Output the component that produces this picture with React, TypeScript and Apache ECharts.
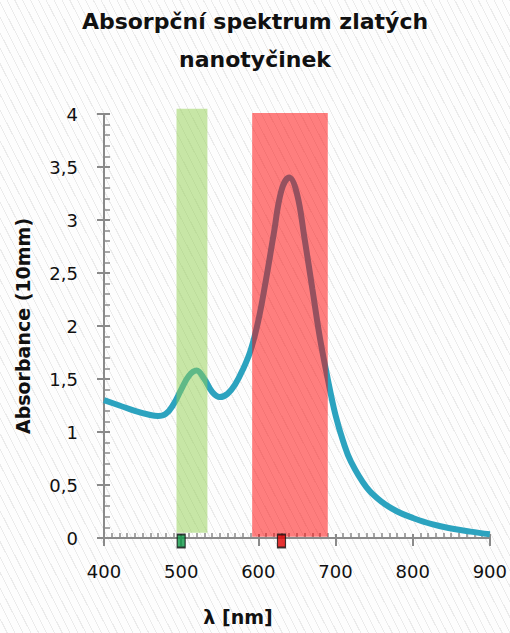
import React, { useEffect, useRef } from "react";
import * as echarts from "echarts";

const wavelengths = [400, 420, 440, 460, 470, 480, 490, 500, 510, 520, 530, 540, 550, 560, 570, 580, 590, 600, 610, 620, 630, 640, 650, 660, 670, 680, 690, 700, 710, 720, 740, 760, 780, 800, 825, 850, 875, 900];
const absorbance = [1.30, 1.25, 1.20, 1.16, 1.15, 1.17, 1.26, 1.40, 1.53, 1.58, 1.50, 1.38, 1.33, 1.36, 1.45, 1.59, 1.77, 2.05, 2.44, 2.87, 3.28, 3.40, 3.25, 2.82, 2.35, 1.88, 1.50, 1.16, 0.91, 0.72, 0.48, 0.34, 0.25, 0.19, 0.13, 0.09, 0.06, 0.035];

const bandStart = [494, 592];
const bandEnd = [534, 690];
const bandBottom = [0.05, 0.012];
const bandTop = [4.05, 4.01];
const bandColors = ["rgba(146,208,80,0.5)", "rgba(255,0,0,0.5)"];

const markerNm = [500, 630];
const markerColors = ["#0e9a47", "#e00000"];

const title = "Absorpční spektrum zlatých\nnanotyčinek";
const yName = "Absorbance (10mm)";
const xName = "λ [nm]";

const FONT = "DejaVu Sans";
const AXIS_GRAY = "#8a8a8a";

export default function App() {
  const ref = useRef<HTMLDivElement>(null);
  useEffect(() => {
    document.body.style.margin = "0";
    if (!ref.current) return;
    const chart = echarts.init(ref.current, undefined, { renderer: "svg" });
    const commonX = { type: "value", min: 400, max: 900, interval: 100, splitLine: { show: false } };
    const commonY = { type: "value", min: 0, max: 4, interval: 0.5, splitLine: { show: false } };
    chart.setOption({
      animation: false,
      title: {
        text: title,
        left: "center",
        top: -3,
        textStyle: { fontFamily: FONT, fontSize: 22, fontWeight: 600, color: "#111", lineHeight: 38 },
      },
      grid: { left: 104, right: 19, top: 114, bottom: 95 },
      xAxis: [
        {
          ...commonX,
          position: "bottom",
          axisLine: { show: true, lineStyle: { color: AXIS_GRAY, width: 2 } },
          axisTick: { show: true, inside: false, length: 8, lineStyle: { color: AXIS_GRAY, width: 2 } },
          axisLabel: { margin: 24, fontFamily: FONT, fontSize: 18, color: "#111" },
        },
        {
          ...commonX,
          position: "bottom",
          axisLine: { show: false },
          axisTick: { show: true, inside: true, length: 4, lineStyle: { color: AXIS_GRAY, width: 2 } },
          minorTick: { show: true, splitNumber: 10, length: 5, lineStyle: { color: AXIS_GRAY, width: 1.5 } },
          axisLabel: { show: false },
        },
      ],
      yAxis: [
        {
          ...commonY,
          position: "left",
          name: yName,
          nameLocation: "middle",
          nameGap: 72,
          nameTextStyle: { fontFamily: FONT, fontSize: 19, fontWeight: 600, color: "#111" },
          axisLine: { show: true, lineStyle: { color: AXIS_GRAY, width: 2 } },
          axisTick: { show: true, inside: false, length: 7, lineStyle: { color: AXIS_GRAY, width: 2 } },
          axisLabel: {
            margin: 26,
            fontFamily: FONT,
            fontSize: 18,
            color: "#111",
            formatter: (v: number) => String(v).replace(".", ","),
          },
        },
        {
          ...commonY,
          position: "left",
          axisLine: { show: false },
          axisTick: { show: true, inside: true, length: 6, lineStyle: { color: AXIS_GRAY, width: 2 } },
          minorTick: { show: true, splitNumber: 5, length: 6, lineStyle: { color: AXIS_GRAY, width: 1.5 } },
          axisLabel: { show: false },
        },
      ],
      graphic: [
        {
          type: "text",
          x: 238,
          y: 617,
          style: {
            text: xName,
            fontFamily: FONT,
            fontSize: 19,
            fontWeight: 600,
            fill: "#111",
            align: "center",
            verticalAlign: "middle",
          },
        },
      ],
      series: [
        {
          type: "line",
          xAxisIndex: 0,
          yAxisIndex: 0,
          data: wavelengths.map((w, i) => [w, absorbance[i]]),
          smooth: 0.4,
          showSymbol: false,
          symbol: "none",
          lineStyle: { color: "#2ca3bf", width: 6 },
          z: 2,
        },
        {
          type: "custom",
          xAxisIndex: 0,
          yAxisIndex: 0,
          clip: false,
          z: 5,
          data: bandStart.map((s, i) => [s, bandEnd[i], bandBottom[i], bandTop[i]]),
          encode: { x: [0, 1], y: [2, 3] },
          renderItem: (params: any, api: any) => {
            const p0 = api.coord([api.value(0), api.value(3)]);
            const p1 = api.coord([api.value(1), api.value(2)]);
            return {
              type: "rect",
              shape: { x: p0[0], y: p0[1], width: p1[0] - p0[0], height: p1[1] - p0[1] },
              style: { fill: bandColors[params.dataIndex] },
            };
          },
        },
        {
          type: "scatter",
          xAxisIndex: 0,
          yAxisIndex: 0,
          clip: false,
          z: 10,
          symbol: "rect",
          symbolSize: [8, 13],
          symbolOffset: [0, 3],
          data: markerNm.map((n, i) => ({
            value: [n, 0],
            itemStyle: { color: markerColors[i], borderColor: "#111", borderWidth: 1.5 },
          })),
        },
      ],
    });
    return () => chart.dispose();
  }, []);
  return (
    <div
      ref={ref}
      style={{
        width: 510,
        height: 633,
        background:
          "repeating-linear-gradient(63deg, #fdfdfd 0px, #fdfdfd 6px, #ebebeb 6px, #ebebeb 7px)",
      }}
    />
  );
}
